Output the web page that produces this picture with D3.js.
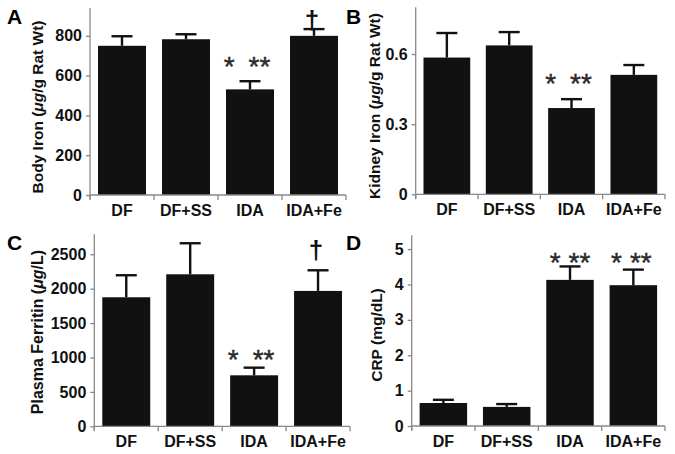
<!DOCTYPE html>
<html><head><meta charset="utf-8">
<script src="https://cdn.jsdelivr.net/npm/d3@7"></script>
<style>body{margin:0;background:#fff}svg{display:block}text{font-family:"Liberation Sans",Arial,sans-serif}</style>
</head><body><svg id="c" width="675" height="454"></svg>
<script>
const categories = ["DF", "DF+SS", "IDA", "IDA+Fe"];
const bodyIron = [750, 783, 531, 800];
const bodyIronErr = [798, 808, 572, 834];
const kidneyIron = [0.585, 0.637, 0.369, 0.511];
const kidneyIronErr = [0.69, 0.694, 0.407, 0.553];
const ferritin = [1875, 2209, 741, 1967];
const ferritinErr = [2195, 2660, 852, 2267];
const crp = [0.65, 0.54, 4.13, 3.98];
const crpErr = [0.74, 0.62, 4.51, 4.42];
const ticksA = [0, 200, 400, 600, 800];
const ticksB = [0, 0.3, 0.6];
const ticksC = [0, 500, 1000, 1500, 2000, 2500];
const ticksD = [0, 1, 2, 3, 4, 5];
const marksA = ["", "", "* **", "†"];
const marksB = ["", "", "* **", ""];
const marksC = ["", "", "* **", "†"];
const marksD = ["", "", "* **", "* **"];

const svg = d3.select("#c");
const FONT = "Liberation Sans, Arial, sans-serif";

function panel(o) {
  const g = svg.append("g");
  const x = d3.scaleBand().domain(categories).range([o.x0, o.x1]).paddingInner(0.25).paddingOuter(0.125);
  const y = d3.scaleLinear().domain([0, o.ymax]).range([o.yb, o.yt]);
  const cx = d => x(d) + x.bandwidth() / 2;
  g.selectAll("rect.bar").data(categories).enter().append("rect")
    .attr("x", d => x(d)).attr("width", x.bandwidth())
    .attr("y", (d, i) => y(o.vals[i])).attr("height", (d, i) => y(0) - y(o.vals[i]))
    .attr("fill", "#111");
  g.selectAll("line.err").data(categories).enter().append("line")
    .attr("x1", cx).attr("x2", cx)
    .attr("y1", (d, i) => y(o.vals[i])).attr("y2", (d, i) => y(o.errs[i]))
    .attr("stroke", "#111").attr("stroke-width", 2.4);
  g.selectAll("line.cap").data(categories).enter().append("line")
    .attr("x1", d => cx(d) - 10.5).attr("x2", d => cx(d) + 10.5)
    .attr("y1", (d, i) => y(o.errs[i])).attr("y2", (d, i) => y(o.errs[i]))
    .attr("stroke", "#111").attr("stroke-width", 2.4);
  const ya = g.append("g").attr("transform", `translate(${o.x0},0)`)
    .call(d3.axisLeft(y).tickValues(o.ticks).tickSize(4).tickPadding(4).tickFormat(o.fmt || d3.format("")));
  ya.select(".domain").attr("d", `M0,${o.yt}V${o.yb + 4}`).attr("stroke", "#888").attr("stroke-width", 1.3);
  ya.selectAll(".tick line").attr("stroke", "#888").attr("stroke-width", 1.3);
  ya.selectAll(".tick text").attr("font-family", FONT).attr("font-weight", "bold").attr("font-size", 16).attr("fill", "#111");
  const step = x.step();
  const xt = d3.range(5).map(i => o.x0 + i * step);
  g.append("line").attr("x1", o.x0).attr("x2", o.x1).attr("y1", o.yb).attr("y2", o.yb).attr("stroke", "#888").attr("stroke-width", 1.3);
  g.selectAll("line.xt").data(xt).enter().append("line")
    .attr("x1", d => d).attr("x2", d => d).attr("y1", o.yb).attr("y2", o.yb + 5)
    .attr("stroke", "#888").attr("stroke-width", 1.3);
  g.selectAll("text.cat").data(categories).enter().append("text")
    .attr("x", cx).attr("y", o.yb + 21).attr("text-anchor", "middle")
    .attr("font-family", FONT).attr("font-weight", "bold").attr("font-size", 16).attr("fill", "#111")
    .text(d => d);
  categories.forEach((c, i) => {
    const m = o.marks[i];
    if (!m) return;
    if (m === "†") {
      g.append("text").attr("x", cx(c) - 2).attr("y", o.dagY)
        .attr("text-anchor", "middle").attr("font-family", "DejaVu Sans, sans-serif")
        .attr("font-weight", "bold").attr("font-size", 26).attr("fill", "#111").text(m);
    } else {
      const parts = m.split(" ");
      const t = g.append("text").attr("x", cx(c) + (o.starDx[i] || 0)).attr("y", o.starY + 14)
        .attr("text-anchor", "middle").attr("font-family", FONT).attr("font-weight", "normal")
        .attr("font-size", 28).attr("fill", "#2a2a2a").attr("stroke", "#2a2a2a").attr("stroke-width", 0.4);
      parts.forEach((p, k) => t.append("tspan").attr("dx", k === 0 ? 0 : o.starGap[i]).text(p));
    }
  });
  const t = g.append("text").attr("transform", `translate(${o.tx},${o.ty}) rotate(-90)`)
    .attr("text-anchor", "middle").attr("font-family", FONT).attr("font-weight", "bold")
    .attr("font-size", o.tfs || 15.5).attr("fill", "#111");
  o.title.forEach(p => t.append("tspan").attr("font-style", p[1] ? "italic" : "normal").text(p[0]));
  g.append("text").attr("x", o.lx).attr("y", o.ly).attr("font-family", FONT).attr("font-weight", "bold")
    .attr("font-size", 21).attr("fill", "#000").text(o.letter);
}

panel({x0: 90, x1: 346, yb: 195, yt: 8, ymax: 940, vals: bodyIron, errs: bodyIronErr, ticks: ticksA, marks: marksA,
  starY: 62, starDx: [0, 0, -3, 0], starGap: [0, 0, 14, 0], dagY: 29,
  title: [["Body Iron ("], ["μg", true], ["/g Rat Wt)"]], tx: 43, ty: 107, letter: "A", lx: 7, ly: 24});
panel({x0: 415.7, x1: 665, yb: 194.3, yt: 7.3, ymax: 0.8, vals: kidneyIron, errs: kidneyIronErr, ticks: ticksB, marks: marksB,
  starY: 79, starDx: [0, 0, -3, 0], starGap: [0, 0, 14, 0],
  fmt: d => d === 0 ? "0" : d3.format(".1f")(d),
  title: [["Kidney Iron ("], ["μg", true], ["/g Rat Wt)"]], tx: 380, ty: 106, letter: "B", lx: 346, ly: 24});
panel({x0: 94.3, x1: 350, yb: 426.3, yt: 234.3, ymax: 2790, vals: ferritin, errs: ferritinErr, ticks: ticksC, marks: marksC,
  starY: 355, starDx: [0, 0, -3, 0], starGap: [0, 0, 14, 0], dagY: 259,
  title: [["Plasma Ferritin ("], ["μg", true], ["/L)"]], tfs: 16, tx: 43, ty: 332, letter: "C", lx: 7, ly: 250});
panel({x0: 411.7, x1: 665, yb: 426, yt: 235.3, ymax: 5.39, vals: crp, errs: crpErr, ticks: ticksD, marks: marksD,
  starY: 258, starDx: [0, 0, 0, -2], starGap: [0, 0, 8, 8],
  title: [["CRP (mg/dL)"]], tx: 382, ty: 335, letter: "D", lx: 346, ly: 250});
</script></body></html>
